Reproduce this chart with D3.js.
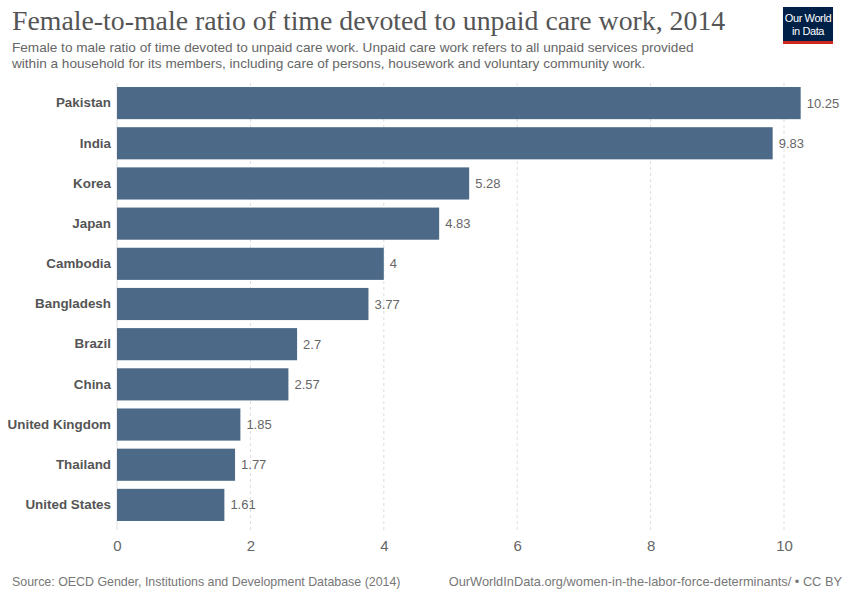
<!DOCTYPE html>
<html><head><meta charset="utf-8">
<script src="https://cdn.jsdelivr.net/npm/d3@7"></script>
<style>body{margin:0;background:#fff;}svg{display:block;}</style>
</head><body>
<svg id="chart" width="845" height="592"></svg>
<script>
const countries = ["Pakistan","India","Korea","Japan","Cambodia","Bangladesh","Brazil","China","United Kingdom","Thailand","United States"];
const ratios = [10.25,9.83,5.28,4.83,4,3.77,2.7,2.57,1.85,1.77,1.61];
const xTicks = [0,2,4,6,8,10];
const titleText = "Female-to-male ratio of time devoted to unpaid care work, 2014";
const subtitleLines = ["Female to male ratio of time devoted to unpaid care work. Unpaid care work refers to all unpaid services provided","within a household for its members, including care of persons, housework and voluntary community work."];
const sourceText = "Source: OECD Gender, Institutions and Development Database (2014)";
const urlText = "OurWorldInData.org/women-in-the-labor-force-determinants/ • CC BY";

const svg = d3.select("#chart");
const sans = "'Liberation Sans', Arial, sans-serif";

svg.append("text").attr("x",12).attr("y",30).attr("font-family","'Liberation Serif','DejaVu Serif',serif")
  .attr("font-size",27.8).attr("fill","#555").text(titleText);
subtitleLines.forEach((l,i)=>svg.append("text").attr("x",12).attr("y",52+i*16).attr("font-family",sans)
  .attr("font-size",13.6).attr("fill","#666").text(l));

// logo
const logo = svg.append("g").attr("transform","translate(783,7)");
logo.append("rect").attr("width",50).attr("height",37).attr("fill","#002147");
logo.append("rect").attr("y",34).attr("width",50).attr("height",3).attr("fill","#ce261e");
logo.append("text").attr("x",25).attr("y",15).attr("text-anchor","middle").attr("font-family",sans).attr("font-size",11).attr("fill","#fff").attr("letter-spacing",-0.4).text("Our World");
logo.append("text").attr("x",25).attr("y",28).attr("text-anchor","middle").attr("font-family",sans).attr("font-size",11).attr("fill","#fff").attr("letter-spacing",-0.4).text("in Data");

const x = d3.scaleLinear().domain([0,10]).range([117,784]);
const y = d3.scaleBand().domain(countries).range([83,525]).paddingInner(0.2).paddingOuter(0.1);

// grid
svg.append("g").selectAll("line").data(xTicks.filter(t=>t>0)).join("line")
  .attr("x1",d=>x(d)).attr("x2",d=>x(d)).attr("y1",83).attr("y2",530)
  .attr("stroke","#ddd").attr("stroke-dasharray","3,3").attr("stroke-width",1);
svg.append("line").attr("x1",x(0)).attr("x2",x(0)).attr("y1",83).attr("y2",530).attr("stroke","#ddd");

// x axis labels
const xAxis = d3.axisBottom(x).tickValues(xTicks).tickSize(0).tickPadding(0);
const gx = svg.append("g").attr("transform","translate(0,537)").call(xAxis);
gx.select(".domain").remove();
gx.selectAll("text").attr("font-family",sans).attr("font-size",15).attr("fill","#666").attr("dy","0.9em");

// bars
svg.append("g").selectAll("rect").data(countries).join("rect")
  .attr("x",x(0)).attr("y",d=>y(d)).attr("height",y.bandwidth())
  .attr("width",(d,i)=>x(ratios[i])-x(0)).attr("fill","#4c6a88");

// value labels
svg.append("g").selectAll("text").data(countries).join("text")
  .attr("x",(d,i)=>x(ratios[i])+6).attr("y",d=>y(d)+y.bandwidth()/2).attr("dy","0.35em")
  .attr("font-family",sans).attr("font-size",13).attr("fill","#666").text((d,i)=>ratios[i]);

// y labels
const yAxis = d3.axisLeft(y).tickSize(0).tickPadding(6);
const gy = svg.append("g").attr("transform",`translate(${x(0)},0)`).call(yAxis);
gy.select(".domain").remove();
gy.selectAll("text").attr("font-family",sans).attr("font-size",13.4).attr("font-weight","bold").attr("fill","#555");

svg.append("text").attr("x",12).attr("y",586).attr("font-family",sans).attr("font-size",12.4).attr("fill","#777").text(sourceText);
svg.append("text").attr("x",842).attr("y",586).attr("text-anchor","end").attr("font-family",sans).attr("font-size",12.8).attr("fill","#777").text(urlText);
</script>
</body></html>
